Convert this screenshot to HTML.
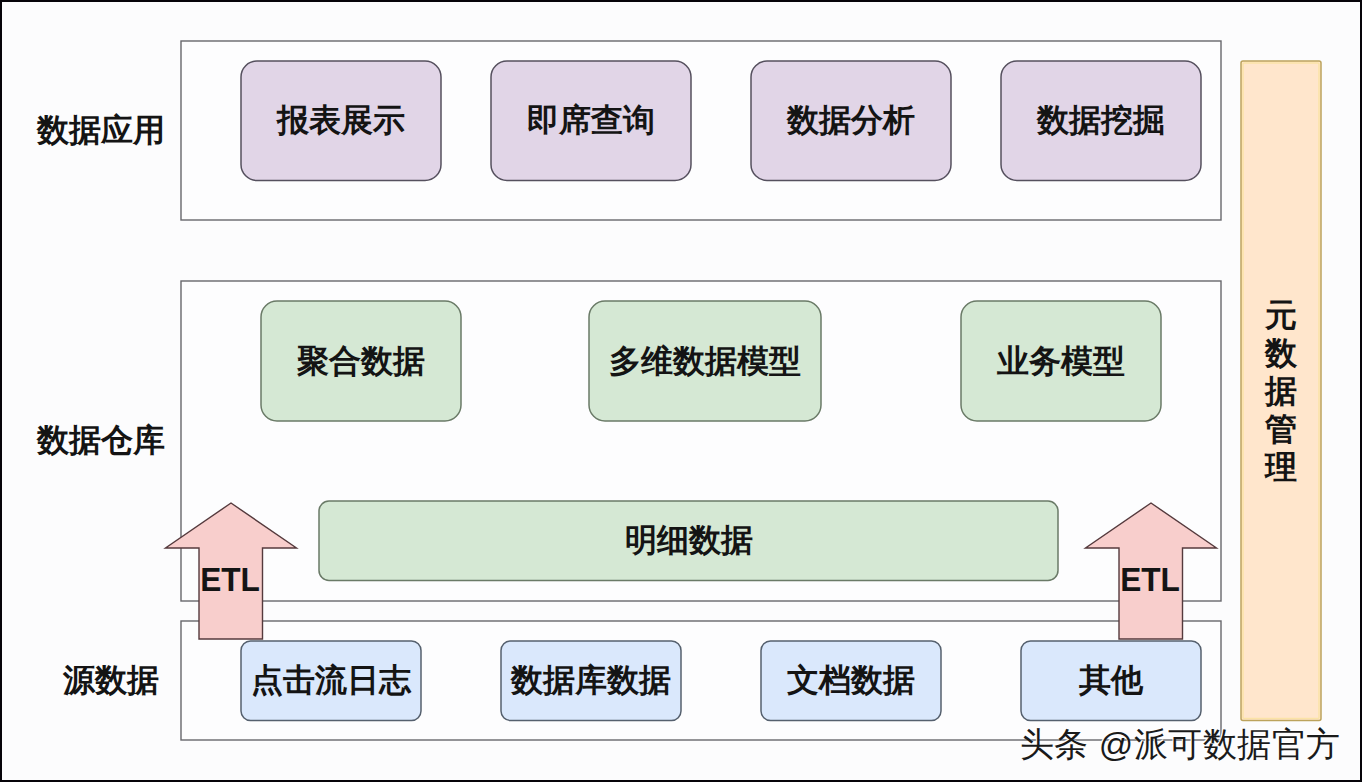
<!DOCTYPE html>
<html>
<head>
<meta charset="utf-8">
<style>
html,body{margin:0;padding:0;}
body{width:1362px;height:782px;overflow:hidden;background:#fcfcfd;position:relative;font-family:"Liberation Sans",sans-serif;color:#111;}
svg{position:absolute;left:0;top:0;}
.t{position:absolute;display:flex;align-items:center;justify-content:center;font-size:32px;font-weight:700;line-height:1;white-space:nowrap;color:#141414;}
.frame{position:absolute;left:0;top:0;width:1362px;height:782px;box-sizing:border-box;border:2px solid #060409;}
.v{position:absolute;left:1241px;top:61px;width:80px;height:660px;display:flex;flex-direction:column;align-items:center;justify-content:center;font-size:32px;font-weight:700;line-height:38px;color:#141414;}
.wm{position:absolute;left:1020px;top:724px;font-size:34px;letter-spacing:0.45px;line-height:40px;font-weight:400;color:#1a1a1a;white-space:nowrap;text-shadow:-1px -1px 0 #fff;}
</style>
</head>
<body>
<svg width="1362" height="782" viewBox="0 0 1362 782">
  <!-- section boxes -->
  <g fill="#fdfdfe" stroke="#67676b" stroke-width="1.4">
    <rect x="181" y="41" width="1040" height="179"/>
    <rect x="181" y="281" width="1040" height="320"/>
    <rect x="181" y="621" width="1040" height="119"/>
  </g>
  <!-- purple boxes -->
  <g fill="#e1d5e7" stroke="#55505e" stroke-width="1.5">
    <rect x="241" y="61" width="200" height="119.5" rx="16"/>
    <rect x="491" y="61" width="200" height="119.5" rx="16"/>
    <rect x="751" y="61" width="200" height="119.5" rx="16"/>
    <rect x="1001" y="61" width="200" height="119.5" rx="16"/>
  </g>
  <!-- green boxes -->
  <g fill="#d5e8d4" stroke="#6a7a67" stroke-width="1.5">
    <rect x="261" y="301" width="200" height="120" rx="16"/>
    <rect x="589" y="301" width="232" height="120" rx="16"/>
    <rect x="961" y="301" width="200" height="120" rx="16"/>
    <rect x="319" y="501" width="739" height="79.5" rx="10"/>
  </g>
  <!-- blue boxes -->
  <g fill="#dae8fc" stroke="#55606e" stroke-width="1.5">
    <rect x="241" y="641" width="180" height="79.5" rx="9.5"/>
    <rect x="501" y="641" width="180" height="79.5" rx="9.5"/>
    <rect x="761" y="641" width="180" height="79.5" rx="9.5"/>
    <rect x="1021" y="641" width="180" height="79.5" rx="9.5"/>
  </g>
  <!-- orange box -->
  <rect x="1241" y="61" width="80" height="659.5" rx="2" fill="#ffe6cc" stroke="#bca35c" stroke-width="1.5"/>
  <rect x="1243" y="63" width="76" height="655.5" rx="1" fill="none" stroke="#fbe3a6" stroke-width="1.5"/>
  <!-- arrows -->
  <g fill="#f8cecc" stroke="#553a3d" stroke-width="1.4" stroke-linejoin="miter">
    <polygon points="231,503 296.5,548 262.5,548 262.5,639 199,639 199,548 165.5,548"/>
    <polygon points="1151,503 1216.5,548 1182.5,548 1182.5,639 1119,639 1119,548 1085.5,548"/>
  </g>
</svg>

<!-- left labels -->
<div class="t" style="left:31px;top:110px;width:140px;height:40px;">数据应用</div>
<div class="t" style="left:31px;top:420px;width:140px;height:40px;">数据仓库</div>
<div class="t" style="left:41px;top:660px;width:140px;height:40px;">源数据</div>

<!-- top boxes -->
<div class="t" style="left:241px;top:60px;width:200px;height:120px;">报表展示</div>
<div class="t" style="left:491px;top:60px;width:200px;height:120px;">即席查询</div>
<div class="t" style="left:751px;top:60px;width:200px;height:120px;">数据分析</div>
<div class="t" style="left:1001px;top:60px;width:200px;height:120px;">数据挖掘</div>

<!-- middle boxes -->
<div class="t" style="left:261px;top:300.5px;width:200px;height:120px;">聚合数据</div>
<div class="t" style="left:589px;top:300.5px;width:232px;height:120px;">多维数据模型</div>
<div class="t" style="left:961px;top:300.5px;width:200px;height:120px;">业务模型</div>
<div class="t" style="left:319px;top:500px;width:739px;height:80px;">明细数据</div>

<!-- bottom boxes -->
<div class="t" style="left:241px;top:640px;width:180px;height:80px;">点击流日志</div>
<div class="t" style="left:501px;top:640px;width:180px;height:80px;">数据库数据</div>
<div class="t" style="left:761px;top:640px;width:180px;height:80px;">文档数据</div>
<div class="t" style="left:1021px;top:640px;width:180px;height:80px;">其他</div>

<!-- ETL -->
<div class="t" style="left:198px;top:559px;width:64px;height:40px;font-size:34px;transform:scaleX(0.93);">ETL</div>
<div class="t" style="left:1118px;top:559px;width:64px;height:40px;font-size:34px;transform:scaleX(0.93);">ETL</div>

<!-- vertical -->
<div class="v"><span>元</span><span>数</span><span>据</span><span>管</span><span>理</span></div>

<!-- watermark -->
<div class="wm">头条 @派可数据官方</div>

<div class="frame"></div>
</body>
</html>
